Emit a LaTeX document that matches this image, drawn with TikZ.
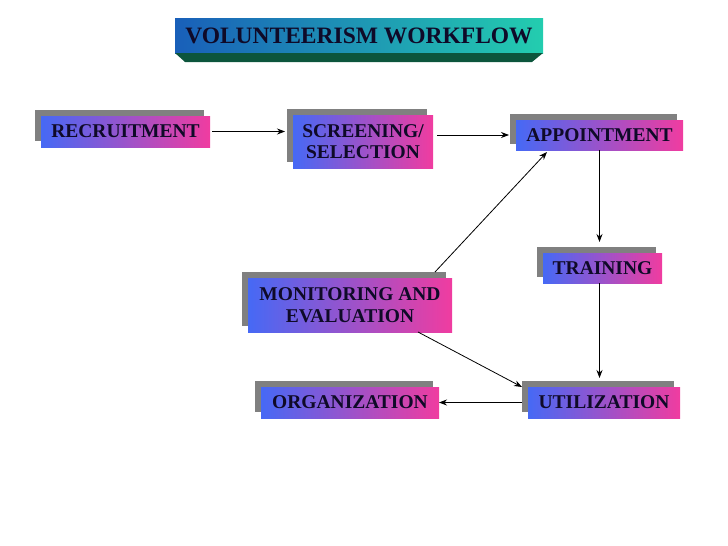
\documentclass[tikz,border=0pt]{standalone}
\usepackage{fontspec}
\setmainfont{Liberation Serif}
\usetikzlibrary{arrows.meta,shadows}
\definecolor{boxblue}{RGB}{70,105,245}
\definecolor{boxpink}{RGB}{240,60,160}
\definecolor{inknavy}{RGB}{15,10,40}
\definecolor{titleblue}{RGB}{25,95,185}
\definecolor{titleteal}{RGB}{35,205,175}
\definecolor{bevelgreen}{RGB}{12,85,60}

\begin{document}
\begin{tikzpicture}[x=1pt,y=-1pt,>={Stealth[length=8pt,width=6pt]},line width=0.8pt,
                    stage/.style={rectangle,inner sep=0pt,outer sep=0pt,align=center,
                      left color=boxblue,right color=boxpink,text=inknavy,
                      general shadow={fill=gray,shadow xshift=-6pt,shadow yshift=6pt},
                      font=\fontsize{19.5}{21.5}\selectfont\bfseries},
                    title box/.style={rectangle,inner sep=0pt,outer sep=0pt,
                      left color=titleblue,right color=titleteal,text=inknavy,
                      minimum width=368pt,minimum height=35pt,
                      font=\fontsize{23.5}{26}\selectfont\bfseries}]
  \useasboundingbox (0,0) rectangle (728,546);
  \node[title box] (title) at (359,35.5) {VOLUNTEERISM WORKFLOW};
  \fill[bevelgreen] (title.south west) -- (title.south east)
    -- ([xshift=-11pt,yshift=-9pt]title.south east) -- ([xshift=10pt,yshift=-9pt]title.south west) -- cycle;

  \node[stage,minimum width=169pt,minimum height=31pt] (rec) at (125.5,131.5) {RECRUITMENT};
  \node[stage,minimum width=140pt,minimum height=53pt] (scr) at (363,141.5) {SCREENING/\\SELECTION};
  \node[stage,minimum width=167pt,minimum height=30pt] (app) at (599.5,135) {APPOINTMENT};
  \node[stage,minimum width=119pt,minimum height=30pt] (tra) at (602.5,268) {TRAINING};
  \node[stage,minimum width=204pt,minimum height=54pt] (mon) at (350,305) {MONITORING AND\\EVALUATION};
  \node[stage,minimum width=178pt,minimum height=31pt] (org) at (350,402.5) {ORGANIZATION};
  \node[stage,minimum width=152pt,minimum height=31pt] (uti) at (604,402.5) {UTILIZATION};

  \draw[->,shorten <=2pt,shorten >=8pt] (rec.east) -- (rec.east -| scr.west);
  \draw[->,shorten <=4pt,shorten >=7pt] (scr.east |- app.west) -- (app.west);
  \draw[->,shorten >=11pt] (app.south) -- (app.south |- tra.north);
  \draw[->,shorten >=9pt] (tra.south -| app.south) -- (uti.north -| app.south);
  \draw[->] ([xshift=-17pt,yshift=6pt]mon.north east) -- ([xshift=31pt,yshift=-2pt]app.south west);
  \draw[->] ([xshift=-34pt]mon.south east) -- ([xshift=-6pt]uti.north west);
  \draw[->,shorten <=6pt] (uti.west) -- (org.east);
\end{tikzpicture}
\end{document}
